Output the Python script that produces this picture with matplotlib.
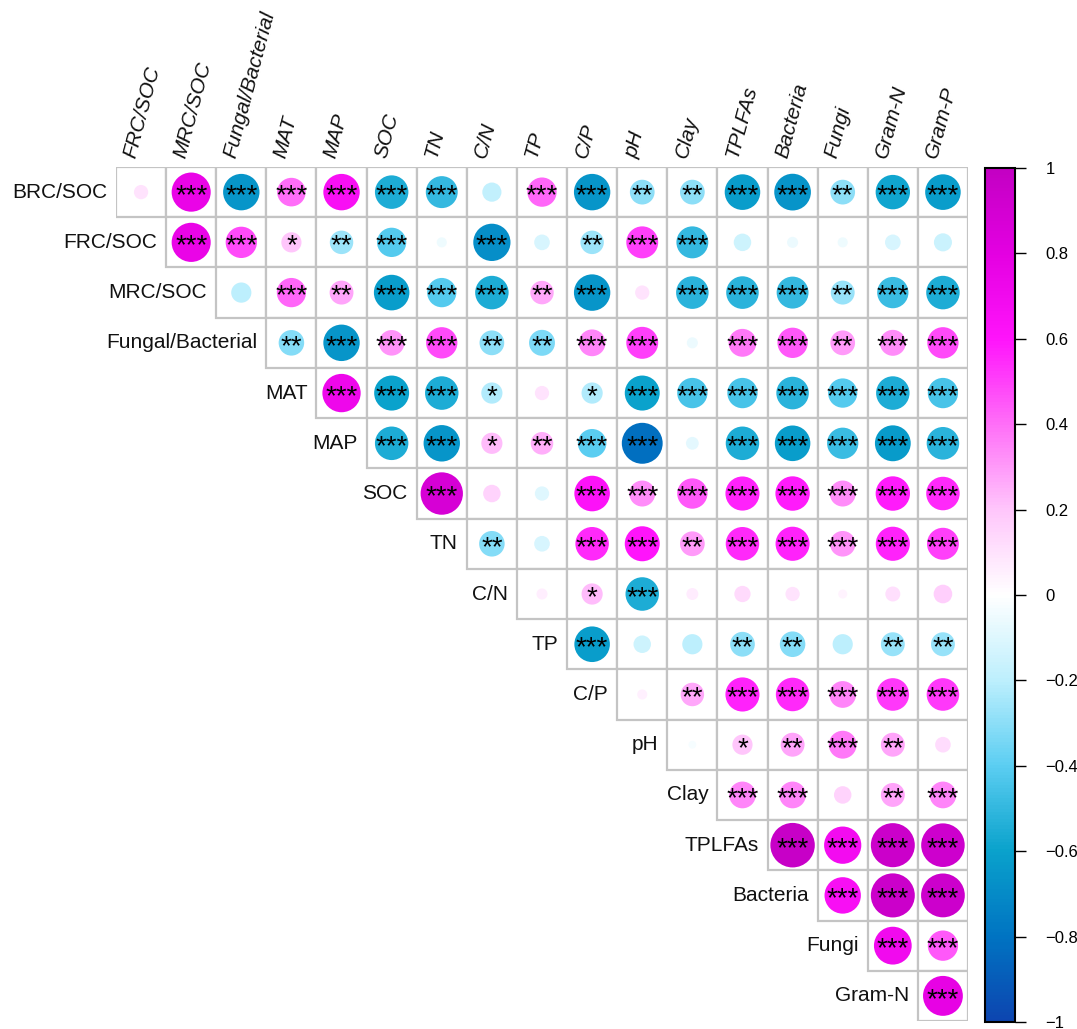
import numpy as np
import matplotlib
matplotlib.use("Agg")
import matplotlib.pyplot as plt
from matplotlib.patches import Circle, Rectangle
from matplotlib.colors import LinearSegmentedColormap, Normalize

plt.rcParams['font.family'] = ['Liberation Sans', 'DejaVu Sans']

# variable names (rows = all but last, columns = all but first)
variables = ['BRC/SOC', 'FRC/SOC', 'MRC/SOC', 'Fungal/Bacterial', 'MAT', 'MAP',
             'SOC', 'TN', 'C/N', 'TP', 'C/P', 'pH', 'Clay', 'TPLFAs',
             'Bacteria', 'Fungi', 'Gram-N', 'Gram-P']
row_labels = variables[:-1]
col_labels = variables[1:]

# correlation coefficients, upper triangle, one list per row
r_brc = [0.10, 0.75, -0.65, 0.40, 0.65, -0.55, -0.50, -0.18, 0.42, -0.65, -0.30, -0.30, -0.62, -0.66, -0.30, -0.58, -0.62]
r_frc = [0.75, 0.48, 0.20, -0.27, -0.42, -0.05, -0.68, -0.12, -0.27, 0.50, -0.50, -0.15, -0.06, -0.05, -0.12, -0.16]
r_mrc = [-0.20, 0.42, 0.28, -0.62, -0.42, -0.55, 0.27, -0.65, 0.10, -0.52, -0.52, -0.50, -0.28, -0.48, -0.55]
r_fb = [-0.32, -0.65, 0.32, 0.48, -0.30, -0.33, 0.35, 0.50, -0.06, 0.38, 0.45, 0.30, 0.33, 0.48]
r_mat = [0.72, -0.60, -0.55, -0.22, 0.10, -0.22, -0.60, -0.45, -0.45, -0.52, -0.42, -0.55, -0.45]
r_map = [-0.55, -0.65, 0.22, 0.25, -0.40, -0.82, -0.08, -0.55, -0.62, -0.48, -0.63, -0.52]
r_soc = [0.88, 0.15, -0.10, 0.62, 0.33, 0.45, 0.57, 0.58, 0.33, 0.58, 0.55]
r_tn = [-0.32, -0.12, 0.55, 0.60, 0.30, 0.55, 0.57, 0.32, 0.57, 0.50]
r_cn = [0.06, 0.22, -0.55, 0.07, 0.13, 0.10, 0.04, 0.11, 0.17]
r_tp = [-0.62, -0.15, -0.20, -0.30, -0.32, -0.20, -0.28, -0.28]
r_cp = [0.05, 0.27, 0.57, 0.55, 0.35, 0.52, 0.52]
r_ph = [-0.03, 0.20, 0.28, 0.38, 0.28, 0.12]
r_clay = [0.35, 0.35, 0.15, 0.28, 0.35]
r_tplfa = [0.97, 0.68, 0.95, 0.93]
r_bact = [0.65, 0.95, 0.94]
r_fungi = [0.70, 0.45]
r_gramn = [0.78]

# significance marks, same layout
s_brc = ['', '***', '***', '***', '***', '***', '***', '', '***', '***', '**', '**', '***', '***', '**', '***', '***']
s_frc = ['***', '***', '*', '**', '***', '', '***', '', '**', '***', '***', '', '', '', '', '']
s_mrc = ['', '***', '**', '***', '***', '***', '**', '***', '', '***', '***', '***', '**', '***', '***']
s_fb = ['**', '***', '***', '***', '**', '**', '***', '***', '', '***', '***', '**', '***', '***']
s_mat = ['***', '***', '***', '*', '', '*', '***', '***', '***', '***', '***', '***', '***']
s_map = ['***', '***', '*', '**', '***', '***', '', '***', '***', '***', '***', '***']
s_soc = ['***', '', '', '***', '***', '***', '***', '***', '***', '***', '***']
s_tn = ['**', '', '***', '***', '**', '***', '***', '***', '***', '***']
s_cn = ['', '*', '***', '', '', '', '', '', '']
s_tp = ['***', '', '', '**', '**', '', '**', '**']
s_cp = ['', '**', '***', '***', '***', '***', '***']
s_ph = ['', '*', '**', '***', '**', '']
s_clay = ['***', '***', '', '**', '***']
s_tplfa = ['***', '***', '***', '***']
s_bact = ['***', '***', '***']
s_fungi = ['***', '***']
s_gramn = ['***']

r_rows = [r_brc, r_frc, r_mrc, r_fb, r_mat, r_map, r_soc, r_tn, r_cn, r_tp,
          r_cp, r_ph, r_clay, r_tplfa, r_bact, r_fungi, r_gramn]
s_rows = [s_brc, s_frc, s_mrc, s_fb, s_mat, s_map, s_soc, s_tn, s_cn, s_tp,
          s_cp, s_ph, s_clay, s_tplfa, s_bact, s_fungi, s_gramn]

# blue - white - magenta palette
cmap = LinearSegmentedColormap.from_list('bwm', [
    (0.0, '#0d45b0'), (0.1, '#0074c2'), (0.2, '#0aa2cc'), (0.3, '#5ccef2'),
    (0.4, '#bdeffd'), (0.5, '#ffffff'), (0.6, '#ffc6fb'), (0.7, '#ff6ff8'),
    (0.8, '#ff14fb'), (0.9, '#e400e2'), (1.0, '#c300c3')])
norm = Normalize(-1, 1)

W, H = 1077, 1029
fig = plt.figure(figsize=(W / 100, H / 100), dpi=100)
n = len(row_labels)
x0, x1, y0, y1 = 116, 968, 167, 1021
ax = fig.add_axes([x0 / W, 1 - y1 / H, (x1 - x0) / W, (y1 - y0) / H])
ax.set_xlim(-0.5, n - 0.5)
ax.set_ylim(n - 0.5, -0.5)
ax.axis('off')

grid_color = '#c4c4c4'
for i, (vals, stars) in enumerate(zip(r_rows, s_rows)):
    for k, (v, s) in enumerate(zip(vals, stars)):
        j = i + k
        ax.add_patch(Rectangle((j - 0.5, i - 0.5), 1, 1, facecolor='white',
                               edgecolor=grid_color, lw=1.6, zorder=1))
        ax.add_patch(Circle((j, i), 0.45 * np.sqrt(abs(v)), facecolor=cmap(norm(v)),
                            edgecolor='none', zorder=2))
        if s:
            ax.text(j, i + 0.22, s, ha='center', va='baseline', fontsize=20,
                    color='black', zorder=3)
    ax.text(i - 0.68, i, row_labels[i], ha='right', va='center', fontsize=15,
            color='#111111')

for j, lab in enumerate(col_labels):
    ax.text(j - 0.22, -0.68, lab, rotation=75, rotation_mode='anchor',
            ha='left', va='center', fontsize=15, style='italic', color='#111111',
            clip_on=False)

# colour legend
cax = fig.add_axes([985 / W, 1 - 1022 / H, 30 / W, (1022 - 168) / H])
cb = fig.colorbar(plt.cm.ScalarMappable(norm=norm, cmap=cmap), cax=cax,
                  ticks=np.linspace(-1, 1, 11))
cb.outline.set_linewidth(1.5)
cb.ax.tick_params(length=8, width=1, labelsize=12, pad=14)
cb.ax.set_yticklabels(['\u22121', '\u22120.8', '\u22120.6', '\u22120.4', '\u22120.2',
                       '0', '0.2', '0.4', '0.6', '0.8', '1'])

fig.savefig('out.png', dpi=100)
